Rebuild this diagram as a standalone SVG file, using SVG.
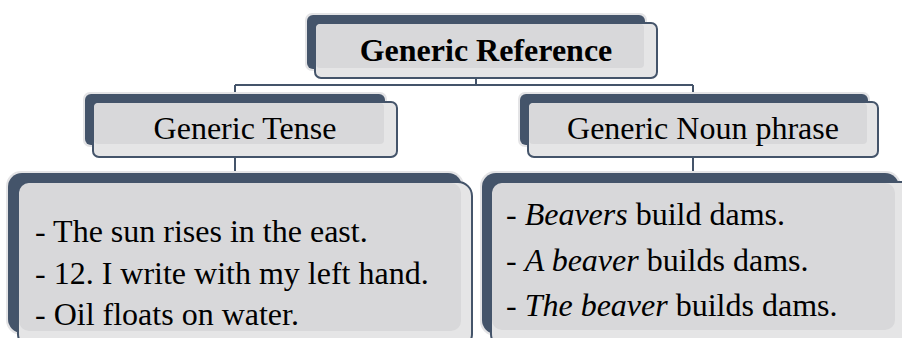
<svg xmlns="http://www.w3.org/2000/svg" width="902" height="338" viewBox="0 0 902 338">
  <style>
    .halo { fill: #e4e4e6; }
    .back { fill: #44546a; }
    .front { fill: #e5e5e6; stroke: #44546a; stroke-width: 2; }
    .inner { fill: #d8d8da; }
    .link { fill: none; stroke: #44546a; stroke-width: 2; }
    .trace { fill: none; stroke: #44546a; stroke-width: 2; stroke-opacity: 0.25; }
    text { font-family: "Liberation Serif", "Times New Roman", serif; font-size: 32px; fill: #000; }
    .title { font-weight: bold; text-anchor: middle; }
    .head { text-anchor: middle; }
    .em { font-style: italic; }
  </style>

  <!-- tree connectors -->
  <g id="connectors">
    <path class="link" d="M476 78 V85 M235 85 H693 M235 85 V94 M693 85 V94 M235 157 V172 M693 157 V172"/>
    <!-- faint continuation seen through the lower strip of each box -->
    <path class="trace" d="M476 69 V78 M235 145 V157 M693 145 V157"/>
  </g>

  <!-- root -->
  <g id="generic-reference">
    <rect class="halo" x="305" y="13" width="342" height="58" rx="7"/>
    <rect class="back" x="307" y="15" width="338" height="54" rx="6"/>
    <rect class="front" x="315" y="23" width="342" height="55" rx="6"/>
    <rect class="inner" x="316" y="24" width="328" height="44" rx="4"/>
    <text class="title" x="486" y="61">Generic Reference</text>
  </g>

  <!-- left branch heading -->
  <g id="generic-tense">
    <rect class="halo" x="83" y="92" width="304" height="55" rx="7"/>
    <rect class="back" x="85" y="94" width="300" height="51" rx="6"/>
    <rect class="front" x="93" y="102" width="304" height="55" rx="6"/>
    <rect class="inner" x="94" y="103" width="290" height="41" rx="4"/>
    <text class="head" x="245" y="139">Generic Tense</text>
  </g>

  <!-- right branch heading -->
  <g id="generic-noun-phrase">
    <rect class="halo" x="518" y="92" width="352" height="55" rx="7"/>
    <rect class="back" x="520" y="94" width="348" height="51" rx="6"/>
    <rect class="front" x="528" y="102" width="350" height="55" rx="6"/>
    <rect class="inner" x="529" y="103" width="338" height="41" rx="4"/>
    <text class="head" x="703" y="139">Generic Noun phrase</text>
  </g>

  <!-- left examples -->
  <g id="tense-examples">
    <rect class="halo" x="6" y="171" width="458" height="164" rx="15"/>
    <rect class="back" x="8" y="173" width="454" height="160" rx="14"/>
    <rect class="front" x="18" y="182" width="454" height="166" rx="14"/>
    <rect class="inner" x="19" y="183" width="442" height="148" rx="10"/>
    <text x="35" y="242">- The sun rises in the east.</text>
    <text x="35" y="283.5">- 12. I write with my left hand.</text>
    <text x="35" y="325">- Oil floats on water.</text>
  </g>

  <!-- right examples -->
  <g id="noun-phrase-examples">
    <rect class="halo" x="480" y="171" width="421" height="165" rx="15"/>
    <rect class="back" x="482" y="173" width="417" height="161" rx="14"/>
    <rect class="front" x="491" y="182" width="430" height="166" rx="14"/>
    <rect class="inner" x="492" y="183" width="403" height="147" rx="10"/>
    <text x="506" y="225">- <tspan class="em">Beavers</tspan> build dams.</text>
    <text x="506" y="270.5">- <tspan class="em">A beaver</tspan> builds dams.</text>
    <text x="506" y="316">- <tspan class="em">The beaver</tspan> builds dams.</text>
  </g>
</svg>
